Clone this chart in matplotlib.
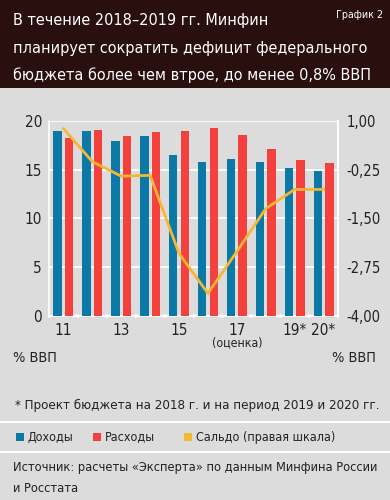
import matplotlib
matplotlib.use("Agg")
import matplotlib.pyplot as plt
from matplotlib.patches import Rectangle
from matplotlib.lines import Line2D
from matplotlib.transforms import blended_transform_factory
import numpy as np

years = ["11", "12", "13", "14", "15", "16", "17", "18", "19*", "20*"]
tick_labels = ["11", "", "13", "", "15", "", "17", "", "19*", "20*"]
revenues = [18.9, 18.9, 17.9, 18.4, 16.5, 15.8, 16.1, 15.8, 15.2, 14.9]
expenses = [18.2, 19.0, 18.4, 18.8, 18.9, 19.3, 18.5, 17.1, 16.0, 15.7]
balance = [0.8, -0.05, -0.42, -0.40, -2.4, -3.42, -2.35, -1.25, -0.76, -0.76]

BLUE = "#0b78a6"
RED = "#f4413d"
ORANGE = "#f6b733"
BG = "#dcdcdc"
DARK = "#2a0f0f"
TXT = "#222222"

plt.rcParams["font.family"] = ["DejaVu Sans"]
plt.rcParams["font.stretch"] = "condensed"

fig = plt.figure(figsize=(3.9, 5.0), dpi=100)
fig.patch.set_facecolor(BG)

# title band
fig.patches.append(Rectangle((0, 1 - 88 / 500), 1, 88 / 500, transform=fig.transFigure,
                             facecolor=DARK, edgecolor="none", zorder=0))
title_lines = ["В течение 2018–2019 гг. Минфин",
               "планирует сократить дефицит федерального",
               "бюджета более чем втрое, до менее 0,8% ВВП"]
for i, t in enumerate(title_lines):
    fig.text(13 / 390, 1 - (21 + i * 27) / 500, t, color="white", fontsize=11.6,
             ha="left", va="center")
fig.text(383 / 390, 1 - 15 / 500, "График 2", color="white", fontsize=7.7,
         ha="right", va="center")

ax = fig.add_axes([49 / 390, (500 - 316) / 500, (338 - 49) / 390, (316 - 120.7) / 500])
ax.set_facecolor(BG)
x = np.arange(len(years))
w = 0.29
ax.bar(x - 0.2, revenues, width=w, color=BLUE, zorder=3)
ax.bar(x + 0.2, expenses, width=w, color=RED, zorder=3)
ax.set_xlim(-0.5, len(years) - 0.5)
ax.set_ylim(0, 20)
ax.set_yticks([0, 5, 10, 15, 20])
ax.set_yticklabels(["0", "5", "10", "15", "20"])
ax.grid(axis="y", color="white", lw=1.2, zorder=1)
ax.set_xticks(x)
ax.set_xticklabels(tick_labels)
ax.set_xticks(np.arange(-0.5, len(years), 1), minor=True)
ax.tick_params(axis="x", which="major", length=0, pad=5, labelsize=11, labelcolor=TXT)
ax.tick_params(axis="x", which="minor", length=3, color="white", width=1.2, direction="inout")
ax.tick_params(axis="y", length=0, pad=5, labelsize=11, labelcolor=TXT)
for s in ax.spines.values():
    s.set_color("white")
    s.set_linewidth(1.2)
ax.spines["top"].set_visible(False)
trans = blended_transform_factory(ax.transData, fig.transFigure)
ax.text(6, 1 - 343 / 500, "(оценка)", transform=trans, fontsize=8.8, ha="center",
        va="center", color=TXT)

ax2 = ax.twinx()
ax2.plot(x, balance, color=ORANGE, lw=2, zorder=5)
ax2.set_ylim(-4.0, 1.0)
ax2.set_yticks([1.0, -0.25, -1.5, -2.75, -4.0])
ax2.set_yticklabels(["1,00", "-0,25", "-1,50", "-2,75", "-4,00"])
ax2.tick_params(axis="y", length=0, pad=6, labelsize=10.6, labelcolor=TXT)
for s in ax2.spines.values():
    s.set_visible(False)
ax2.spines["right"].set_visible(True)
ax2.spines["right"].set_color("white")
ax2.spines["right"].set_linewidth(1.2)

fig.text(13 / 390, 1 - 358 / 500, "% ВВП", fontsize=10.4, ha="left", va="center", color=TXT)
fig.text(376 / 390, 1 - 358 / 500, "% ВВП", fontsize=10.4, ha="right", va="center", color=TXT)

fig.text(15 / 390, 1 - 405 / 500, "* Проект бюджета на 2018 г. и на период 2019 и 2020 гг.",
         fontsize=9.55, ha="left", va="center", color=TXT)
for yy in (421.7, 451.7):
    fig.add_artist(Line2D([0, 1], [1 - yy / 500] * 2, transform=fig.transFigure,
                          color="white", lw=1.5))

legend_items = [(16, BLUE, "Доходы"), (93, RED, "Расходы"), (184, ORANGE, "Сальдо (правая шкала)")]
for lx, col, lab in legend_items:
    fig.patches.append(Rectangle((lx / 390, 1 - 441 / 500), 8 / 390, 8 / 500,
                                 transform=fig.transFigure, facecolor=col, edgecolor="none"))
    fig.text((lx + 12) / 390, 1 - 437 / 500, lab, fontsize=9.0, ha="left", va="center",
             color=TXT)

fig.text(13 / 390, 1 - 468 / 500, "Источник: расчеты «Эксперта» по данным Минфина России",
         fontsize=9.2, ha="left", va="center", color=TXT)
fig.text(13 / 390, 1 - 488 / 500, "и Росстата", fontsize=9.2, ha="left", va="center",
         color=TXT)

fig.savefig("out.png", dpi=100, facecolor=BG)
